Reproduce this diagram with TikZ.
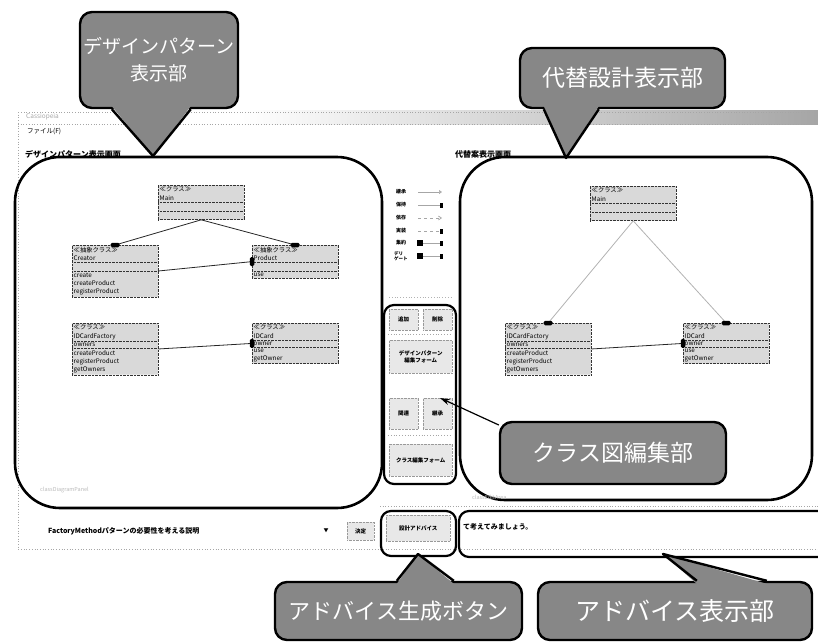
\documentclass[tikz,border=0pt]{standalone}
\usepackage{fontspec}
\setmainfont{Noto Sans CJK JP}
\usetikzlibrary{shapes.multipart,calc,arrows.meta}

\begin{document}
\begin{tikzpicture}[x=1pt,y=-1pt,
  winline/.style={draw=gray!70,dotted,line width=0.7pt},
  panel/.style={draw=black,line width=2.6pt,rounded corners=45pt},
  boxframe/.style={draw=black,line width=2.2pt,rounded corners=10pt},
  umlclass/.style={rectangle split,rectangle split parts=3,
    rectangle split part align=left,rectangle split empty part height=5pt,
    draw=black!80,densely dotted,fill=gray!30,text=black,
    minimum width=86pt,inner xsep=1.5pt,inner ysep=1.5pt,
    font=\fontsize{6.3}{8.2}\selectfont,align=left,anchor=north west},
  assoc/.style={draw=black!85,line width=0.8pt},
  altassoc/.style={draw=gray!60,line width=0.8pt},
  hmark/.style={fill=black,rounded corners=1.5pt,minimum width=9pt,minimum height=4.5pt,inner sep=0pt},
  vmark/.style={fill=black,rounded corners=1.5pt,minimum width=4.5pt,minimum height=9pt,inner sep=0pt},
  btn/.style={draw=gray!80,densely dotted,fill=gray!18,inner sep=1pt,anchor=north west,
    align=center,font=\fontsize{5.5}{6.5}\selectfont\bfseries},
  callout/.style={draw=black,line width=2.4pt,fill=black!47,rounded corners=12pt,
    text=white,align=center,inner sep=2pt},
  cfill/.style={fill=black!47},
  cline/.style={draw=black,line width=2.4pt,line join=round},
  smalltxt/.style={font=\fontsize{6.5}{8}\selectfont,anchor=west,inner sep=0pt},
  legendtxt/.style={font=\fontsize{5}{6}\selectfont\bfseries,anchor=west,inner sep=0pt},
  legline/.style={draw=gray!70,line width=0.7pt}]

\useasboundingbox (0,0) rectangle (818,642);

% ---------- application window ----------
\shade[left color=white,right color=gray!70] (240,110) rectangle (818,124);
\draw[winline] (18,112) rectangle (818,549);
\draw[winline] (18,124) -- (818,124);
\node[smalltxt,text=gray!70] (wtitle) at (26,117) {\itshape Cassiopeia};
\node[smalltxt] (menu) at (27,131) {ファイル(F)};
\node[font=\fontsize{8}{9}\selectfont\bfseries,anchor=west,inner sep=0pt] (llabel) at (25,154) {デザインパターン表示画面};
\node[font=\fontsize{8}{9}\selectfont\bfseries,anchor=west,inner sep=0pt] (rlabel) at (455,154) {代替案表示画面};

% ---------- design pattern panel ----------
\draw[panel] (15,157) rectangle (382,508);

\node[umlclass] (ltop) at (158,185) {≪クラス≫\\Main \nodepart{two} \nodepart{three} };
\node[umlclass] (lml) at (72,245) {≪抽象クラス≫\\Creator \nodepart{two} \nodepart{three} create\\createProduct\\registerProduct};
\node[umlclass] (lmr) at (252,245) {≪抽象クラス≫\\Product \nodepart{two} \nodepart{three} use};
\node[umlclass] (lbl) at (72,323) {≪クラス≫\\IDCardFactory \nodepart{two} owners \nodepart{three} createProduct\\registerProduct\\getOwners};
\node[umlclass] (lbr) at (252,323) {≪クラス≫\\IDCard \nodepart{two} owner \nodepart{three} use\\getOwner};

\draw[assoc] (ltop.south) -- (lml.north);
\draw[assoc] (ltop.south) -- (lmr.north);
\draw[assoc] (lml.east) -- (lmr.west);
\draw[assoc] (lbl.east) -- (lbr.west);
\node[hmark] (m1) at (lml.north) {};
\node[hmark] (m2) at (lmr.north) {};
\node[vmark] (m3) at (lmr.west) {};
\node[vmark] (m4) at (lbr.west) {};

\node[font=\fontsize{5.5}{6}\selectfont,text=gray!55,anchor=west,inner sep=0pt] (lpname) at (40,490) {classDiagramPanel};

% ---------- alternative design panel ----------
\draw[panel] (460,157) rectangle (812,500);

\node[umlclass] (rtop) at (590,186) {≪クラス≫\\Main \nodepart{two} \nodepart{three} };
\node[umlclass] (rbl) at (505,323) {≪クラス≫\\IDCardFactory \nodepart{two} owners \nodepart{three} createProduct\\registerProduct\\getOwners};
\node[umlclass] (rbr) at (683,323) {≪クラス≫\\IDCard \nodepart{two} owner \nodepart{three} use\\getOwner};

\draw[altassoc] (rtop.south) -- (rbl.north);
\draw[altassoc] (rtop.south) -- (rbr.north);
\draw[assoc] (rbl.east) -- (rbr.west);
\node[hmark] (m5) at (rbl.north) {};
\node[hmark] (m6) at (rbr.north) {};
\node[vmark] (m7) at (rbr.west) {};

\node[font=\fontsize{5.5}{6}\selectfont,text=gray!55,anchor=west,inner sep=0pt] (rpname) at (472,497) {classEditArea};

% ---------- relation legend ----------
\node[legendtxt] (lg1) at (396,192) {継承};
\node[legendtxt] (lg2) at (396,205) {保持};
\node[legendtxt] (lg3) at (396,218) {依存};
\node[legendtxt] (lg4) at (396,231) {実装};
\node[legendtxt] (lg5) at (396,243) {集約};
\node[legendtxt,align=left,font=\fontsize{4.5}{5}\selectfont\bfseries] (lg6) at (394,256) {デリ\\ゲート};
\draw[legline,-{Triangle[open,length=3pt,width=4pt]}] (418,192) -- (442,192);
\draw[legline] (418,205) -- (440,205);
\fill (440,203) rectangle (443,207.5);
\draw[legline,dashed,-{Straight Barb[length=3pt,width=4pt]}] (418,218) -- (442,218);
\draw[legline,dashed] (418,231) -- (440,231);
\fill (440,229) rectangle (443,233.5);
\fill (417,240) rectangle (423,246);
\draw[legline] (423,243) -- (440,243);
\fill (440,241) rectangle (443,245.5);
\fill (417,253) rectangle (423,259);
\draw[legline] (423,256) -- (440,256);
\fill (440,254) rectangle (443,258.5);

% ---------- class diagram editing tools ----------
\draw[gray!60,dotted,line width=0.8pt] (389,297) -- (452,297);
\draw[boxframe] (384,305) rectangle (456,484);
\node[btn,minimum width=29pt,minimum height=21pt] (badd) at (389,309) {追加};
\node[btn,minimum width=29pt,minimum height=21pt] (bdel) at (423,309) {削除};
\draw[gray!70,dotted,line width=0.8pt] (388,334) -- (452,334);
\node[btn,minimum width=63pt,minimum height=33pt] (bdp) at (389,340) {デザインパターン\\編集フォーム};
\node[btn,minimum width=29pt,minimum height=31pt] (brel) at (389,398) {関連};
\node[btn,minimum width=29pt,minimum height=31pt] (binh) at (423,398) {継承};
\draw[gray!70,dotted,line width=0.8pt] (388,435) -- (452,435);
\node[btn,minimum width=63pt,minimum height=32pt] (bcls) at (389,444) {クラス編集フォーム};

% ---------- bottom bar ----------
\node[font=\fontsize{7}{8}\selectfont\bfseries,anchor=west,inner sep=0pt] (scen) at (48,531) {FactoryMethodパターンの必要性を考える説明};
\node[font=\fontsize{5}{6}\selectfont,inner sep=0pt] (drop) at (326,531) {▼};
\node[btn,minimum width=27pt,minimum height=18pt] (bok) at (347,522) {決定};
\draw[winline] (380,506) -- (818,506);

\draw[boxframe] (381,511) rectangle (456,556);
\node[btn,minimum width=64pt,minimum height=26pt] (badv) at (386,515) {設計アドバイス};
\draw[boxframe] (459,511) rectangle (840,557);
\node[font=\fontsize{7}{8}\selectfont\bfseries,anchor=west,inner sep=0pt] (advtxt) at (463,527) {て考えてみましょう。};

% ---------- callouts ----------
\node[callout,minimum width=158pt,minimum height=96pt,font=\fontsize{19}{27}\selectfont] (c1) at (159,60) {デザインパターン\\表示部};
\coordinate (t1) at (153,156);
\fill[cfill] ($(c1.south west)+(33,-3)$) -- (t1) -- ($(c1.south west)+(112,-3)$) -- cycle;
\draw[cline] ($(c1.south west)+(33,0)$) -- (t1) -- ($(c1.south west)+(112,0)$);

\node[callout,minimum width=205pt,minimum height=60pt,font=\fontsize{23}{27}\selectfont] (c2) at (622.5,78) {代替設計表示部};
\coordinate (t2) at (566,158);
\fill[cfill] ($(c2.south west)+(25,-3)$) -- (t2) -- ($(c2.south west)+(80,-3)$) -- cycle;
\draw[cline] ($(c2.south west)+(25,0)$) -- (t2) -- ($(c2.south west)+(80,0)$);

\node[callout,minimum width=226pt,minimum height=62pt,font=\fontsize{23}{27}\selectfont] (c3) at (613,453) {クラス図編集部};
\coordinate (t3) at (440,398);
\draw[black,line width=1.2pt,-{Stealth[length=10pt,width=6pt]}] (c3.west |- 0,425) -- (t3);

\node[callout,minimum width=247pt,minimum height=58pt,font=\fontsize{22}{26}\selectfont] (c4) at (398.5,611) {アドバイス生成ボタン};
\coordinate (t4) at (418,554);
\fill[cfill] ($(c4.north west)+(123,3)$) -- (t4) -- ($(c4.north west)+(180,3)$) -- cycle;
\draw[cline] ($(c4.north west)+(123,0)$) -- (t4) -- ($(c4.north west)+(180,0)$);

\node[callout,minimum width=274pt,minimum height=58pt,font=\fontsize{25}{29}\selectfont] (c5) at (675,611) {アドバイス表示部};
\coordinate (t5) at (663,554);
\fill[cfill] ($(c5.north west)+(160,3)$) -- (t5) -- ($(c5.north west)+(230,3)$) -- cycle;
\draw[cline] ($(c5.north west)+(160,0)$) -- (t5) -- ($(c5.north west)+(230,0)$);

\end{tikzpicture}
\end{document}
